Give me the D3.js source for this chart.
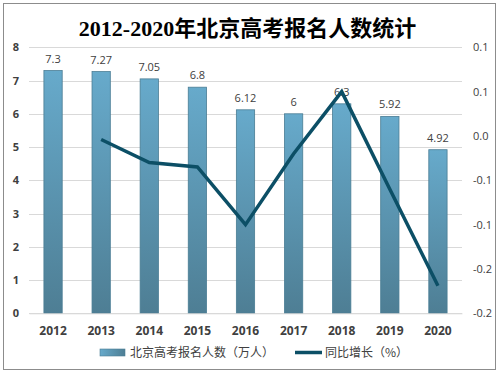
<!DOCTYPE html>
<html><head><meta charset="utf-8">
<script src="https://cdn.jsdelivr.net/npm/d3@7"></script>
<style>
html,body{margin:0;padding:0;background:#fff;}
svg{display:block;}
</style></head>
<body>
<svg id="c" width="499" height="374"></svg>
<script>
const years = ["2012","2013","2014","2015","2016","2017","2018","2019","2020"];
const applicants = [7.3, 7.27, 7.05, 6.8, 6.12, 6, 6.3, 5.92, 4.92];
const growth = [null, -0.004, -0.030, -0.035, -0.100, -0.020, 0.050, -0.060, -0.169];
const leftTicks = [0,1,2,3,4,5,6,7,8];
const rightTicks = [-0.2,-0.15,-0.1,-0.05,0,0.05,0.1];
const title = "2012-2020年北京高考报名人数统计";
const barName = "北京高考报名人数（万人）";
const lineName = "同比增长（%）";

const svg = d3.select("#c");
const m = {left:29, right:462, top:47.3, bottom:313.3};

svg.append("rect").attr("x",3.5).attr("y",3.5).attr("width",492).attr("height",366)
  .attr("fill","#fff").attr("stroke","#8c8c8c").attr("stroke-width",1);

const defs = svg.append("defs");
const g = defs.append("linearGradient").attr("id","bg").attr("x1",0).attr("y1",0).attr("x2",0).attr("y2",1);
g.append("stop").attr("offset","0%").attr("stop-color","#67aacb");
g.append("stop").attr("offset","100%").attr("stop-color","#4e7e94");
const lg = defs.append("linearGradient").attr("id","lgb").attr("x1",0).attr("y1",0).attr("x2",1).attr("y2",0);
lg.append("stop").attr("offset","0%").attr("stop-color","#67aacb");
lg.append("stop").attr("offset","100%").attr("stop-color","#4e7e94");

const x = d3.scaleBand().domain(years).range([m.left,m.right]).paddingInner(0.62).paddingOuter(0.31);
const y = d3.scaleLinear().domain([0,8]).range([m.bottom,m.top]);
const y2 = d3.scaleLinear().domain([-0.2,0.1]).range([m.bottom,m.top]);

svg.append("text").attr("x",247.5).attr("y",36).attr("text-anchor","middle")
  .attr("font-family","'Liberation Serif','Noto Sans CJK SC',serif").attr("font-weight","bold")
  .attr("font-size",22).attr("fill","#000").text(title);

// gridlines
svg.append("g").selectAll("line").data(leftTicks).join("line")
  .attr("x1",m.left).attr("x2",m.right)
  .attr("y1",d=>Math.round(y(d))+0.5).attr("y2",d=>Math.round(y(d))+0.5)
  .attr("stroke","#d9d9d9").attr("stroke-width",1);

// left axis
const ax = svg.append("g").attr("transform",`translate(${m.left},0)`)
  .call(d3.axisLeft(y).tickValues(leftTicks).tickSize(0).tickPadding(10).tickFormat(d3.format("d")));
ax.select(".domain").remove();
ax.selectAll("text").attr("font-family","'Open Sans','DejaVu Sans',sans-serif").attr("font-weight","bold")
  .attr("font-size",11).attr("fill","#404040");

// right axis (one decimal, rounded half away from zero)
const fmt1 = d => { const r = Math.sign(d)*Math.round(Math.abs(d)*10+1e-9)/10; return (r===0?0:r).toFixed(1); };
const ax2 = svg.append("g").attr("transform",`translate(${m.right},0)`)
  .call(d3.axisRight(y2).tickValues(rightTicks).tickSize(0).tickPadding(11).tickFormat(fmt1));
ax2.select(".domain").remove();
ax2.selectAll("text").attr("font-family","'Open Sans','DejaVu Sans',sans-serif")
  .attr("font-size",11).attr("fill","#404040");

// bars
svg.append("g").selectAll("rect").data(applicants).join("rect")
  .attr("x",(d,i)=>x(years[i])).attr("width",x.bandwidth())
  .attr("y",d=>y(d)).attr("height",d=>y(0)-y(d))
  .attr("fill","url(#bg)").attr("stroke","#4a7d94").attr("stroke-width",0.8);

// bar labels
svg.append("g").selectAll("text").data(applicants).join("text")
  .attr("x",(d,i)=>x(years[i])+x.bandwidth()/2).attr("y",d=>y(d)-8)
  .attr("text-anchor","middle").attr("font-family","'Open Sans','DejaVu Sans',sans-serif")
  .attr("font-size",11).attr("fill","#404040").text(d=>d);

// x axis
const xa = svg.append("g").attr("transform",`translate(0,${m.bottom})`)
  .call(d3.axisBottom(x).tickSize(0).tickPadding(13));
xa.select(".domain").attr("stroke","#d9d9d9");
xa.selectAll("text").attr("font-family","'Open Sans','DejaVu Sans',sans-serif").attr("font-weight","bold")
  .attr("font-size",12).attr("fill","#404040");

// line
const pts = years.map((yr,i)=>({yr,v:growth[i]})).filter(d=>d.v!==null);
svg.append("path").datum(pts)
  .attr("d",d3.line().x(d=>x(d.yr)+x.bandwidth()/2).y(d=>y2(d.v)))
  .attr("fill","none").attr("stroke","#0c4f66").attr("stroke-width",3.5).attr("stroke-linejoin","miter");

// legend
const L = svg.append("g");
L.append("rect").attr("x",100).attr("y",349).attr("width",25).attr("height",7)
  .attr("fill","url(#lgb)").attr("stroke","#4a7d94").attr("stroke-width",0.6);
L.append("text").attr("x",130).attr("y",357).attr("font-family","'Noto Sans CJK SC',sans-serif")
  .attr("font-size",12).attr("fill","#404040").text(barName);
L.append("line").attr("x1",295).attr("x2",322).attr("y1",352.5).attr("y2",352.5)
  .attr("stroke","#0c4f66").attr("stroke-width",3.5);
L.append("text").attr("x",325).attr("y",357).attr("font-family","'Noto Sans CJK SC',sans-serif")
  .attr("font-size",12).attr("fill","#404040").text(lineName);
</script>
</body></html>
